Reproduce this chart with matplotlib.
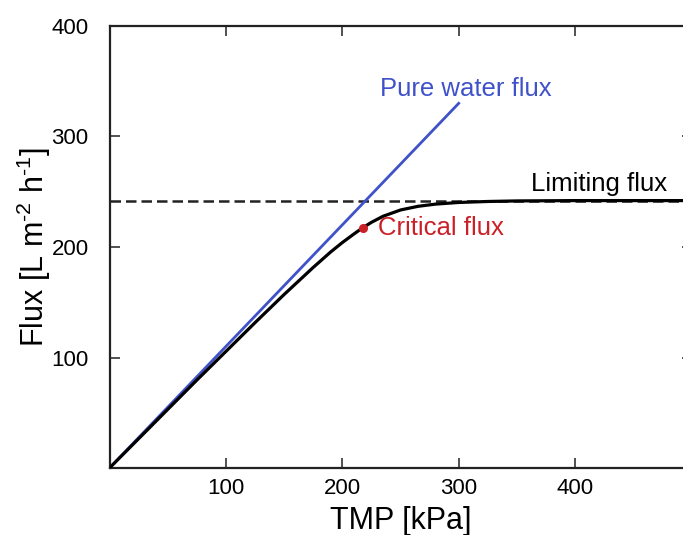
import numpy as np
import matplotlib
matplotlib.use("Agg")
import matplotlib.pyplot as plt

plt.rcParams["font.family"] = ["Liberation Sans", "DejaVu Sans"]

# values
tmp = [0, 25, 50, 75, 100, 125, 150, 175, 190, 200, 210, 217, 225, 235,
       250, 265, 280, 300, 325, 350, 400, 450, 500]
flux = [0, 26.5, 53, 79.5, 105.5, 131.5, 157, 181.5, 195.5, 204, 211.8, 217, 222.3, 227.8,
        233.5, 236.8, 238.8, 240.3, 241.2, 241.7, 242, 242, 242]

pure_tmp = [0, 300]
pure_flux = [0, 330]

limiting_flux = 242
critical_tmp = 217.5
critical_flux = 217.5

BLUE = "#3f52c9"
RED = "#cc2027"
INK = "#222222"

fig = plt.figure(figsize=(6.83, 5.35), dpi=100)
ax = fig.add_axes([109.5 / 683, 67 / 535, 582 / 683, 442 / 535])

ax.axhline(limiting_flux, color=INK, lw=1.8, ls=(0, (4.2, 2.0)), zorder=2)
ax.plot(pure_tmp, pure_flux, color=BLUE, lw=2.0, zorder=3)
ax.plot(tmp, flux, color="black", lw=2.3, zorder=4, solid_joinstyle="round")
ax.plot([critical_tmp], [critical_flux], "o", color=RED, ms=5.5, zorder=5)

ax.text(232, 337, "Pure water flux", color=BLUE, fontsize=18.5, va="baseline")
ax.text(362, 251, "Limiting flux", color="black", fontsize=18.5, va="baseline")
ax.text(230.5, 217, "Critical flux", color=RED, fontsize=18.5, va="center")

ax.set_xlim(0, 500)
ax.set_ylim(0, 400)
ax.set_xticks([100, 200, 300, 400])
ax.set_yticks([100, 200, 300, 400])
ax.tick_params(direction="in", length=7.5, width=1.1, color=INK,
               top=True, right=True, labelsize=16)
ax.tick_params(axis="x", pad=7)
ax.tick_params(axis="y", pad=15)
for s in ax.spines.values():
    s.set_linewidth(1.6)
    s.set_color(INK)

ax.set_xlabel("TMP [kPa]", fontsize=22, labelpad=5)
ax.set_ylabel("Flux [L m$^{\\mathregular{\u20102}}$ h$^{\\mathregular{\u20101}}$]",
              fontsize=22, labelpad=-1)

fig.savefig("out.png", dpi=100)
